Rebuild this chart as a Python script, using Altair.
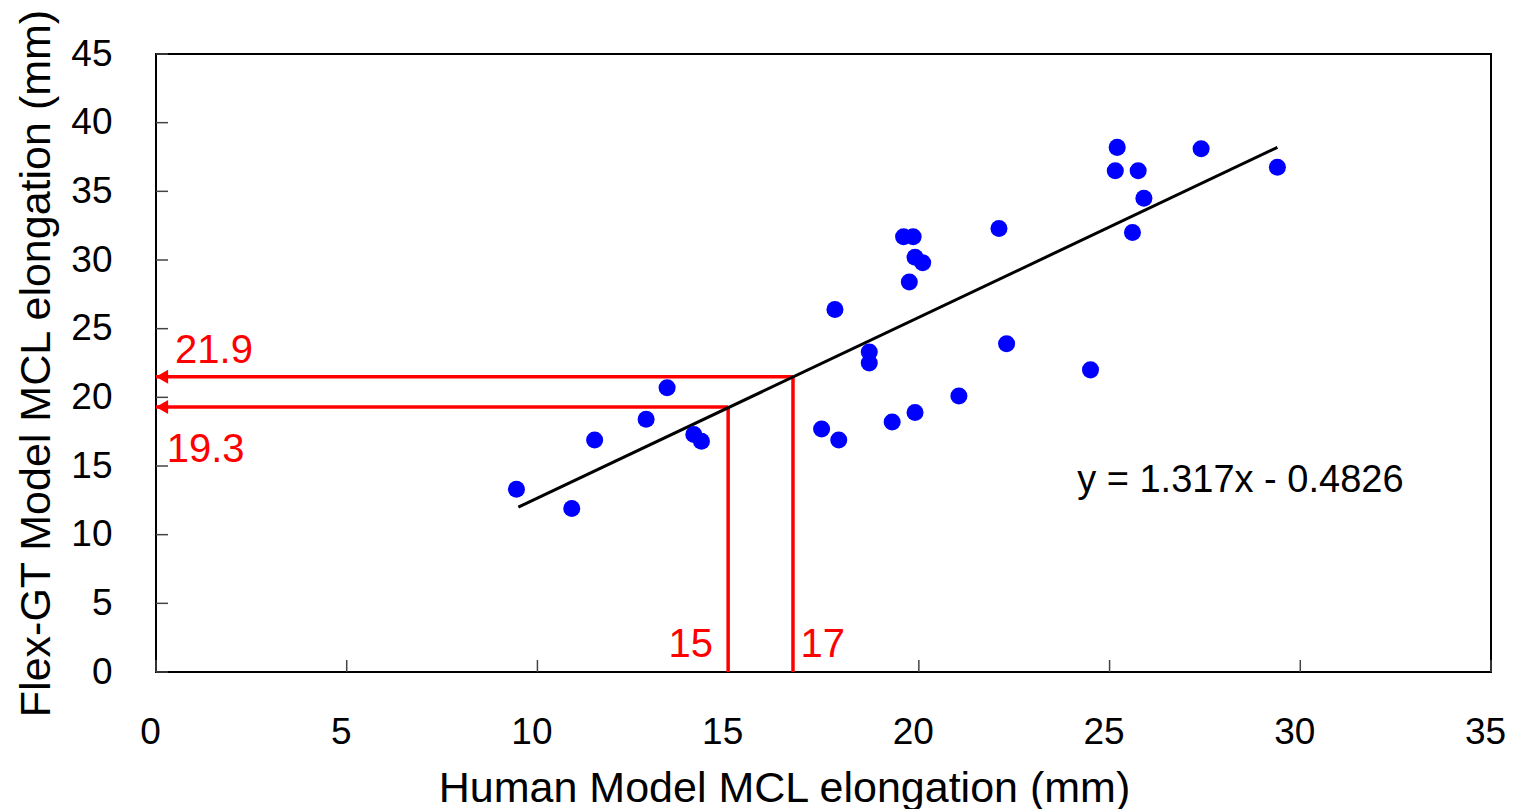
import altair as alt
import pandas as pd

# Scatter data
human_x = [9.45, 10.9, 11.5, 12.85, 13.4, 14.1, 14.3, 17.45, 17.8, 17.9, 18.7, 18.7,
           19.3, 19.6, 19.85, 19.75, 19.9, 20.1, 19.9, 21.05, 22.1, 22.3, 24.5, 25.15,
           25.2, 25.6, 25.75, 25.9, 27.4, 29.4]
flex_y = [13.3, 11.9, 16.9, 18.4, 20.7, 17.3, 16.8, 17.7, 26.4, 16.9, 23.3, 22.5,
          18.2, 31.7, 31.7, 28.4, 30.2, 29.8, 18.9, 20.1, 32.3, 23.9, 22.0, 36.5,
          38.2, 32.0, 36.5, 34.5, 38.1, 36.75]

# Trend line endpoints
trend_x = [9.5, 29.4]
trend_y = [12.0, 38.2]

# Red guide lines
guide_x = [15.0, 16.7]
guide_y = [19.3, 21.5]

# Axis ticks
x_ticks = [0, 5, 10, 15, 20, 25, 30, 35]
y_ticks = [0, 5, 10, 15, 20, 25, 30, 35, 40, 45]

# Red labels
red_labels = ["21.9", "19.3", "15", "17"]
red_label_x = [0.5, 0.28, 14.6, 16.9]
red_label_y = [23.4, 16.2, 2.0, 2.0]
red_label_align = ["left", "left", "right", "left"]

eq_text = "y = 1.317x - 0.4826"
eq_x = 24.15
eq_y = 13.9

W, H = 1335, 618
FONT = "Liberation Sans"

xs = alt.Scale(domain=[0, 35], nice=False)
ys = alt.Scale(domain=[0, 45], nice=False)

pts = pd.DataFrame({"x": human_x, "y": flex_y})
trend = pd.DataFrame({"x": trend_x, "y": trend_y})
guides = pd.DataFrame({"gx": guide_x, "gy": guide_y, "zero": [0, 0]})
xt = pd.DataFrame({"v": x_ticks})
yt = pd.DataFrame({"v": y_ticks})

base_x = alt.X("x:Q", scale=xs, axis=alt.Axis(
    values=x_ticks, tickSize=0, grid=False, domain=False, labelFont=FONT,
    labelFontSize=37, labelColor="black", labelPadding=42, labelFlush=False,
    labelOffset=-6,
    title="Human Model MCL elongation (mm)", titleFont=FONT, titleFontSize=43,
    titleFontWeight="normal", titleColor="black", titleX=628, titleY=129,
    titleBaseline="alphabetic"))
base_y = alt.Y("y:Q", scale=ys, axis=alt.Axis(
    values=y_ticks, tickSize=0, grid=False, domain=False, labelFont=FONT,
    labelFontSize=37, labelColor="black", labelPadding=44,
    title="Flex-GT Model MCL elongation (mm)", titleFont=FONT, titleFontSize=43,
    titleFontWeight="normal", titleColor="black", titlePadding=12))

scatter = alt.Chart(pts).mark_circle(size=290, color="#0000FF", opacity=1).encode(
    x=base_x, y=base_y)

trend_line = alt.Chart(trend).mark_line(color="black", strokeWidth=3).encode(
    x=alt.X("x:Q", scale=xs), y=alt.Y("y:Q", scale=ys))

vrules = alt.Chart(guides).mark_rule(color="#FF0000", strokeWidth=3.5).encode(
    x=alt.X("gx:Q", scale=xs), y=alt.Y("zero:Q", scale=ys), y2="gy:Q")
hrules = alt.Chart(guides).mark_rule(color="#FF0000", strokeWidth=3.5).encode(
    y=alt.Y("gy:Q", scale=ys), x=alt.X("zero:Q", scale=xs), x2="gx:Q")
heads = alt.Chart(guides).mark_point(
    shape="triangle-left", filled=True, color="#FF0000", size=200, opacity=1,
    xOffset=6).encode(x=alt.X("zero:Q", scale=xs), y=alt.Y("gy:Q", scale=ys))

lab = pd.DataFrame({"t": red_labels, "x": red_label_x, "y": red_label_y,
                    "a": red_label_align})
left_labels = alt.Chart(lab[lab.a == "left"]).mark_text(
    color="#FF0000", font=FONT, fontSize=40, align="left", baseline="middle").encode(
    x=alt.X("x:Q", scale=xs), y=alt.Y("y:Q", scale=ys), text="t:N")
right_labels = alt.Chart(lab[lab.a == "right"]).mark_text(
    color="#FF0000", font=FONT, fontSize=40, align="right", baseline="middle").encode(
    x=alt.X("x:Q", scale=xs), y=alt.Y("y:Q", scale=ys), text="t:N")

eq = alt.Chart(pd.DataFrame({"t": [eq_text], "x": [eq_x], "y": [eq_y]})).mark_text(
    color="black", font=FONT, fontSize=38, align="left", baseline="middle").encode(
    x=alt.X("x:Q", scale=xs), y=alt.Y("y:Q", scale=ys), text="t:N")

xtick_marks = alt.Chart(xt).mark_rule(color="#444444", strokeWidth=1.5).encode(
    x=alt.X("v:Q", scale=xs), y=alt.value(H - 12), y2=alt.value(H))
ytick_marks = alt.Chart(yt).mark_rule(color="#444444", strokeWidth=1.5).encode(
    y=alt.Y("v:Q", scale=ys), x=alt.value(0), x2=alt.value(12))

chart = alt.layer(
    xtick_marks, ytick_marks, vrules, hrules, heads, trend_line, scatter,
    left_labels, right_labels, eq
).properties(
    width=W, height=H,
    background="white",
    autosize=alt.AutoSizeParams(type="none"),
    padding={"left": 148, "top": 46, "right": 17, "bottom": 137},
).configure_view(
    stroke="black", strokeWidth=2
)

chart.save("out.html", embed_options={"renderer": "svg", "actions": False})
